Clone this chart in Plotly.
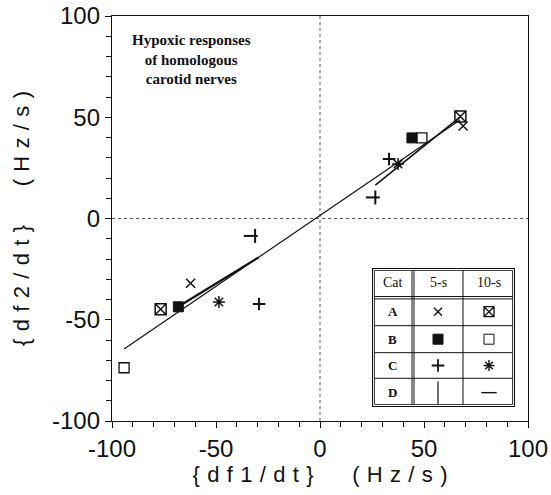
import plotly.graph_objects as go

# Rate of change of discharge frequency, nerve 1 vs nerve 2 (Hz/s)
cat_a_5s_x = [68.8, -62.2]
cat_a_5s_y = [45.7, -32.0]
cat_a_10s_x = [67.5, -76.6]
cat_a_10s_y = [50.4, -44.8]
cat_b_5s_x = [44.2, -68.1]
cat_b_5s_y = [39.8, -43.6]
cat_b_10s_x = [49.0, -94.2]
cat_b_10s_y = [39.8, -73.7]
cat_c_5s_x = [33.2, -29.3]
cat_c_5s_y = [29.4, -42.2]
cat_c_10s_x = [37.5, -48.6]
cat_c_10s_y = [26.9, -41.2]
cat_d_5s_x = [26.6, -31.2]
cat_d_5s_y = [10.4, -8.6]
cat_d_10s_x = [25.4, -33.3]
cat_d_10s_y = [10.4, -8.6]

# Regression lines: (slope, intercept, x start, x end, width)
fit_lines = [
    (0.70, 1.5, -94.2, 67.3, 1.2),
    (0.826, -5.5, 26.6, 67.3, 1.6),
    (0.63, -0.6, -67.8, -29.6, 2.2),
]

x_ticks = [-100, -50, 0, 50, 100]
y_ticks = [-100, -50, 0, 50, 100]

table_cats = ["A", "B", "C", "D"]
table_heads = ["Cat", "5-s", "10-s"]
title_lines = ["Hypoxic responses", "of homologous", "carotid nerves"]

BLACK = "#111111"
SANS = "Liberation Sans, Arial, sans-serif"
SERIF = "Liberation Serif, Times New Roman, serif"

series = [
    (cat_a_5s_x, cat_a_5s_y, "x-thin-open", 9, 1.5),
    (cat_a_10s_x, cat_a_10s_y, "square-x-open", 11, 1.5),
    (cat_b_5s_x, cat_b_5s_y, "square", 10, 1),
    (cat_b_10s_x, cat_b_10s_y, "square-open", 10, 1.3),
    (cat_c_5s_x, cat_c_5s_y, "cross-thin-open", 9, 2.0),
    (cat_c_10s_x, cat_c_10s_y, "asterisk-open", 10, 1.5),
    (cat_d_5s_x, cat_d_5s_y, "line-ns-open", 10, 2),
    (cat_d_10s_x, cat_d_10s_y, "line-ew-open", 10, 2),
]

fig = go.Figure()

for slope, icpt, xa, xb, w in fit_lines:
    fig.add_trace(go.Scatter(
        x=[xa, xb], y=[slope * xa + icpt, slope * xb + icpt],
        mode="lines", line=dict(color=BLACK, width=w),
        showlegend=False, hoverinfo="skip"))

for xs, ys, sym, size, lw in series:
    fig.add_trace(go.Scatter(
        x=xs, y=ys, mode="markers",
        marker=dict(symbol=sym, size=size, color=BLACK,
                    line=dict(color=BLACK, width=lw)),
        showlegend=False))

# Key table drawn on its own small axes (units are pixels of the table box)
col_edges = [0, 41, 91, 143]
row_edges = [0, 29.7, 57.7, 84.7, 110.3, 139]
col_mid = [(col_edges[i] + col_edges[i + 1]) / 2 for i in range(3)]
row_mid = [(row_edges[i] + row_edges[i + 1]) / 2 for i in range(5)]

shapes = []
# outer double frame
shapes.append(dict(type="rect", xref="x2", yref="y2", x0=0, x1=143, y0=0, y1=139,
                   line=dict(color=BLACK, width=2.2), fillcolor="white", layer="below"))
shapes.append(dict(type="rect", xref="x2", yref="y2", x0=2.5, x1=140.5, y0=2.5, y1=136.5,
                   line=dict(color=BLACK, width=0.8)))
# header separator (double)
for yy in (row_edges[1] - 1.2, row_edges[1] + 1.2):
    shapes.append(dict(type="line", xref="x2", yref="y2", x0=2.5, x1=140.5, y0=yy, y1=yy,
                       line=dict(color=BLACK, width=1)))
for yy in row_edges[2:5]:
    shapes.append(dict(type="line", xref="x2", yref="y2", x0=2.5, x1=140.5, y0=yy, y1=yy,
                       line=dict(color=BLACK, width=1)))
# column separators
for xx in (col_edges[1] - 1, col_edges[1] + 1):
    shapes.append(dict(type="line", xref="x2", yref="y2", x0=xx, x1=xx, y0=2.5, y1=136.5,
                       line=dict(color=BLACK, width=1)))
shapes.append(dict(type="line", xref="x2", yref="y2", x0=col_edges[2], x1=col_edges[2],
                   y0=2.5, y1=136.5, line=dict(color=BLACK, width=1)))

# dotted zero lines in the main plot
shapes.append(dict(type="line", xref="x", yref="y", x0=0, x1=0, y0=-100, y1=100,
                   line=dict(color="#555555", width=1, dash="dot"), layer="below"))
shapes.append(dict(type="line", xref="x", yref="y", x0=-100, x1=100, y0=0, y1=0,
                   line=dict(color="#555555", width=1, dash="dot"), layer="below"))

key_marks = [
    (1, 1, "x-thin-open", 8, 1.4), (2, 1, "square-x-open", 10, 1.3),
    (1, 2, "square", 10, 1), (2, 2, "square-open", 10, 1),
    (1, 3, "cross-thin-open", 9, 1.8), (2, 3, "asterisk-open", 9, 1.4),
    (1, 4, "line-ns-open", 16, 1.2), (2, 4, "line-ew-open", 11, 1.4),
]
for c, r, sym, size, lw in key_marks:
    fig.add_trace(go.Scatter(
        x=[col_mid[c]], y=[row_mid[r]], xaxis="x2", yaxis="y2", mode="markers",
        marker=dict(symbol=sym, size=size, color=BLACK, line=dict(color=BLACK, width=lw)),
        showlegend=False, hoverinfo="skip"))

annotations = []
for i, h in enumerate(table_heads):
    annotations.append(dict(x=col_mid[i], y=row_mid[0], xref="x2", yref="y2", text=h,
                            showarrow=False, font=dict(family=SERIF, size=14, color=BLACK)))
for i, c in enumerate(table_cats):
    annotations.append(dict(x=col_mid[0], y=row_mid[i + 1], xref="x2", yref="y2",
                            text="<b>" + c + "</b>", showarrow=False,
                            font=dict(family=SERIF, size=13, color=BLACK)))

# caption in the upper-left corner
annotations.append(dict(
    x=0.192, y=0.893, xref="paper", yref="paper",
    xanchor="center", yanchor="middle",
    text="<br>".join("<b>" + t + "</b>" for t in title_lines),
    align="center", showarrow=False,
    font=dict(family=SERIF, size=15, color=BLACK)))

sp = "\u2004"
gap = "\u2003\u2002\u2005"
x_title = sp.join("{df1/dt}") + gap + sp.join("(Hz/s)")
y_title = sp.join("{df2/dt}") + gap + sp.join("(Hz/s)")

axis_common = dict(
    showline=True, linecolor=BLACK, linewidth=1.3, mirror=True,
    ticks="outside", ticklen=6, tickwidth=1.2, tickcolor=BLACK,
    minor=dict(dtick=10, ticks="outside", ticklen=5, tickwidth=1, tickcolor=BLACK),
    showgrid=False, zeroline=False, automargin=False,
    tickfont=dict(family=SANS, size=24, color=BLACK),
)

fig.update_layout(
    width=551, height=495,
    margin=dict(l=112, r=23, t=16, b=74, autoexpand=False),
    paper_bgcolor="white", plot_bgcolor="white",
    xaxis=dict(range=[-100, 100], tickvals=x_ticks, ticktext=[str(v) for v in x_ticks],
               title=dict(text=x_title, font=dict(family=SANS, size=22, color=BLACK), standoff=5),
               **axis_common),
    yaxis=dict(range=[-100, 100], tickvals=y_ticks, ticktext=[str(v) for v in y_ticks],
               title=dict(text=y_title, font=dict(family=SANS, size=22, color=BLACK), standoff=16),
               **axis_common),
    xaxis2=dict(domain=[0.625, 0.96875], range=[0, 143], visible=False, anchor="y2",
                fixedrange=True),
    yaxis2=dict(domain=[0.0346, 0.3778], range=[139, 0], visible=False, anchor="x2",
                fixedrange=True),
    shapes=shapes,
    annotations=annotations,
)

fig.write_html("out.html")
